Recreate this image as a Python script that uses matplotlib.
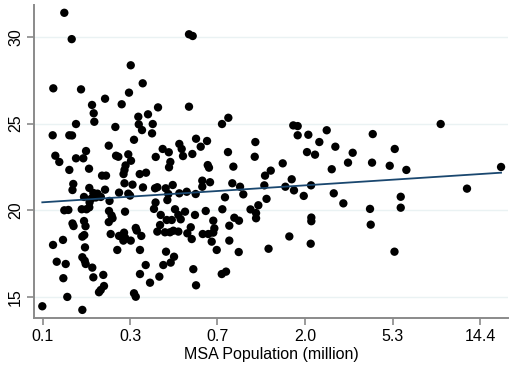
import numpy as np
import matplotlib
matplotlib.use("Agg")
import matplotlib.pyplot as plt

plt.rcParams['font.family'] = ['Liberation Sans', 'DejaVu Sans']

# natural log of MSA population (million) and the outcome
log_pop = [
    -2.057, -1.973, -2.182, -1.867, -1.742, -1.723, -1.716, -1.594, -1.405, -1.322,
    -1.302, -1.166, -1.106, -1.216, -1.211, -1.174, -1.265, -1.477, -1.924, -2.189,
    -2.000, -1.969, -2.159, -2.114, -2.000, -1.924, -1.841, -1.810, -1.776, -1.552,
    -1.469, -1.443, -1.330, -1.299, -1.361, -1.373, -1.384, -1.628, -1.583, -1.200,
    -1.128, -0.992, -1.052, -1.060, -1.018, -0.939, -0.870, -0.852, -0.867, -0.750,
    -0.723, -0.708, -0.640, -0.640, -0.598, -0.602, -0.560, -0.507, -0.435, -0.427,
    -0.413, -0.265, -0.193, -0.197, -0.136, 0.114, 0.107, 0.224, 0.289, 0.545,
    0.595, 0.595, 0.716, 0.925, 0.841, 0.701, 0.792, 1.023, 1.220, 1.167,
    0.982, 1.448, 1.440, 1.641, 1.698, 1.830, 2.220, 2.906, 0.425, 0.527,
    0.455, 0.553, 0.747, 0.664, 1.005, 1.114, 1.417, 1.425, 0.750, 0.750,
    0.500, 0.743, 2.519, 1.766, 1.766, 1.695, 0.216, 0.241, 0.148, 0.059,
    0.122, 0.122, 0.264, -0.489, -0.401, -0.489, -0.148, -0.060, -1.026, -1.000,
    -0.905, -0.825, -0.875, -0.886, -0.750, -0.666, -0.564, -0.023, -0.231, -1.020,
    -1.038, -0.799, -0.685, -0.450, -0.261, -0.961, -0.893, -0.836, -0.761, -0.734,
    -0.572, -0.364, -0.125, -0.072, -0.182, -0.969, -1.000, -0.913, -0.856, -0.818,
    -0.761, -0.659, -0.620, -0.609, -0.484, -0.420, -0.352, -0.364, -0.382, -0.325,
    -0.182, -0.075, -0.901, -0.810, -0.848, -0.932, -0.591, -0.977, -1.083, -0.560,
    -0.268, -0.219, -1.955, -1.964, -1.773, -1.727, -1.680, -1.642, -1.699, -1.748,
    -1.833, -1.770, -1.594, -1.543, -1.435, -1.330, -1.310, -1.373, -1.282, -1.163,
    -2.057, -2.011, -1.859, -1.805, -1.773, -1.549, -1.520, -1.509, -1.552, -1.367,
    -1.964, -1.952, -1.833, -1.816, -1.245, -1.234, -1.182, -1.530, -1.378, -1.435,
    -1.367, -1.386, -1.302, -1.852, -1.830, -2.072, -2.185, -1.822, -1.455, -1.197,
    -1.852, -1.825, -1.814, -2.143, -2.041, -1.739, -1.132, -2.068, -1.727, -1.614,
    -1.197, -1.606, -1.643, -1.663, -1.265, -1.245, -2.023, -2.307, -1.852,
]
y_vals = [
    31.40, 29.88, 27.04, 26.98, 26.08, 25.60, 25.11, 26.44, 26.12, 26.79,
    28.37, 27.33, 25.54, 25.40, 24.96, 24.63, 24.07, 24.81, 24.98, 24.33,
    24.33, 24.32, 23.15, 22.79, 22.33, 23.00, 23.00, 23.42, 22.40, 23.73,
    23.15, 23.09, 23.23, 22.86, 22.59, 22.33, 22.09, 22.00, 22.00, 22.09,
    22.17, 25.94, 24.98, 24.44, 23.08, 23.54, 23.35, 22.79, 22.48, 23.83,
    23.54, 23.13, 25.98, 30.16, 30.06, 23.25, 24.13, 23.67, 24.00, 22.61,
    22.46, 24.98, 25.34, 23.36, 22.52, 23.94, 23.09, 22.00, 22.29, 24.90,
    24.86, 24.33, 24.36, 24.62, 23.94, 23.36, 23.21, 23.67, 23.32, 22.75,
    22.37, 24.40, 22.75, 22.57, 23.54, 22.33, 24.98, 22.50, 22.71, 21.79,
    21.36, 21.15, 21.44, 20.83, 20.98, 20.40, 20.08, 19.17, 19.58, 19.37,
    18.49, 18.07, 21.25, 20.78, 20.15, 17.61, 21.44, 20.66, 20.29, 20.05,
    19.84, 19.54, 17.78, 21.71, 21.62, 21.36, 21.56, 21.36, 21.27, 21.33,
    21.27, 21.46, 20.94, 20.59, 20.98, 21.07, 20.94, 20.92, 20.75, 20.45,
    20.08, 20.06, 19.92, 19.96, 20.06, 19.73, 19.44, 19.44, 19.73, 19.48,
    19.73, 19.40, 19.57, 19.40, 19.11, 19.15, 18.77, 18.73, 18.73, 18.82,
    18.77, 18.67, 19.02, 18.34, 18.63, 18.63, 18.96, 18.71, 18.19, 17.71,
    18.25, 17.59, 17.61, 17.32, 16.98, 16.84, 16.60, 16.17, 15.82, 15.67,
    16.32, 16.46, 21.52, 21.17, 21.29, 21.00, 20.96, 20.77, 20.74, 20.68,
    20.77, 20.46, 21.19, 20.54, 21.02, 20.96, 20.85, 21.56, 21.48, 21.32,
    20.00, 20.02, 20.06, 20.06, 20.17, 19.96, 19.70, 19.54, 19.32, 19.92,
    19.24, 19.09, 19.38, 19.08, 18.98, 18.83, 18.52, 18.63, 18.71, 18.52,
    18.42, 18.25, 18.25, 18.48, 18.57, 18.29, 18.00, 17.86, 17.71, 17.71,
    17.29, 17.09, 16.90, 17.03, 16.90, 16.69, 16.84, 16.08, 16.13, 16.27,
    16.32, 15.63, 15.40, 15.27, 15.21, 15.01, 15.00, 14.46, 14.25,
]

# fitted line, value at smallest and largest MSA
fit_y = [20.46, 22.17]

# x ticks (log scale positions) and their labels
xtick_pos = [-2.302, -1.310, -0.318, 0.678, 1.675, 2.667]
xtick_labels = ["0.1", "0.3", "0.7", "2.0", "5.3", "14.4"]
ytick_vals = [15, 20, 25, 30]

fig = plt.figure(figsize=(5.10, 3.65), dpi=100)
W, H = 510, 365
ax = fig.add_axes([34.3 / W, (H - 317.7) / H, (508 - 34.3) / W, (317.7 - 5) / H])

for yv in ytick_vals:
    ax.axhline(yv, color='#eaf2f3', lw=1.0, zorder=0)

ax.scatter(log_pop, y_vals, s=36, color='black', edgecolors='none', zorder=2)
ax.plot([min(log_pop), max(log_pop)], fit_y, color='#1a476f', lw=1.3, zorder=3)

ax.set_xlim(-2.398, 2.985)
ax.set_ylim(13.80, 31.85)

ax.set_xticks(xtick_pos)
ax.set_xticklabels(xtick_labels)
ax.set_yticks(ytick_vals)
ax.set_yticklabels([str(v) for v in ytick_vals], rotation=90, va='center')

for side in ['top', 'right']:
    ax.spines[side].set_visible(False)
for side in ['left', 'bottom']:
    ax.spines[side].set_color('#8a8a8a')
    ax.spines[side].set_linewidth(1.4)

ax.tick_params(axis='both', colors='#8a8a8a', length=5, width=1.2, labelsize=11.5,
               labelcolor='black', pad=3)
ax.set_xlabel("MSA Population (million)", fontsize=11.5, labelpad=2)

fig.savefig("out.png", dpi=100)
